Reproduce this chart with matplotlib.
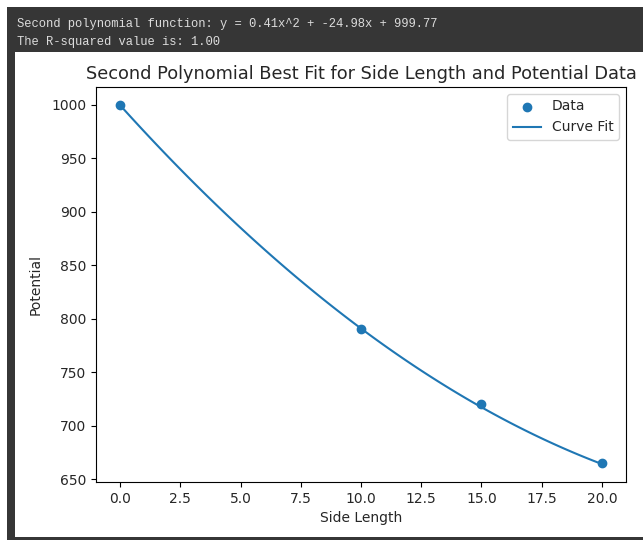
import matplotlib
matplotlib.use('Agg')
import matplotlib.pyplot as plt
import numpy as np
from matplotlib.patches import Rectangle

#Measured data and printed fit coefficients

side_length = [0, 10, 15, 20]
potential = [1000, 790, 720, 665]
fit_coefficients = [0.41, -24.98, 999.77]
r_squared = 1.00

#Curve from the fitted second polynomial

x_fit = np.linspace(min(side_length), max(side_length), 100)
y_fit = np.polyval(fit_coefficients, x_fit)

plt.rcParams['text.color'] = '#262626'
plt.rcParams['axes.labelcolor'] = '#262626'
plt.rcParams['xtick.labelcolor'] = '#262626'
plt.rcParams['ytick.labelcolor'] = '#262626'

fig = plt.figure(figsize=(6.43, 5.4), dpi=100)
fig.patch.set_facecolor('white')

#Notebook output frame

dark = '#363636'
W, H = 643.0, 540.0
fig.patches.append(Rectangle((7/W, 0), 1 - 7/W, 1 - 7/H, transform=fig.transFigure,
                             facecolor=dark, edgecolor='none', zorder=-3))
fig.patches.append(Rectangle((15/W, 3/H), 1 - 15/W, (540 - 52 - 3)/H, transform=fig.transFigure,
                             facecolor='white', edgecolor='none', zorder=-2))

fig.text(17/W, 1 - 24/H, 'Second polynomial function: y = %.2fx^2 + %.2fx + %.2f'
         % tuple(fit_coefficients), family='Liberation Mono', fontsize=8.7,
         color='#dcdcdc', va='center')
fig.text(17/W, 1 - 42/H, 'The R-squared value is: %.2f' % r_squared,
         family='Liberation Mono', fontsize=8.7, color='#dcdcdc', va='center')

ax = fig.add_axes([96/W, 58/H, 530/W, 395/H])
ax.scatter(side_length, potential, label='Data')
ax.plot(x_fit, y_fit, label='Curve Fit')
ax.set_title('Second Polynomial Best Fit for Side Length and Potential Data', fontsize=12.8)
ax.set_xlabel('Side Length')
ax.set_ylabel('Potential', labelpad=6)
ax.legend()

plt.savefig('out.png', dpi=100)
